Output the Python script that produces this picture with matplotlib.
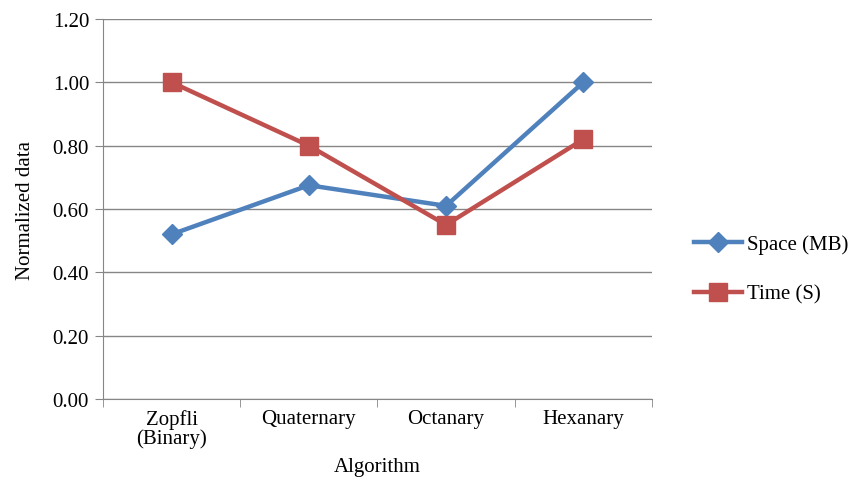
import matplotlib.pyplot as plt
import numpy as np

plt.rcParams['font.family'] = ['Liberation Serif', 'DejaVu Serif']

algorithms = ['Zopfli\n(Binary)', 'Quaternary', 'Octanary', 'Hexanary']
space_mb = [0.52, 0.675, 0.61, 1.00]
time_s = [1.00, 0.80, 0.55, 0.82]
y_ticks = [0.0, 0.2, 0.4, 0.6, 0.8, 1.0, 1.2]

blue = '#4F81BD'
red = '#C0504D'
grid_col = '#868686'
fs = 15

fig = plt.figure(figsize=(8.59, 4.81), dpi=100)
ax = fig.add_axes([0.1199, 0.1684, 0.639, 0.790])

x = np.arange(len(algorithms))
ax.plot(x, space_mb, color=blue, lw=3.2, marker='D', ms=10.5, label='Space (MB)', zorder=3)
ax.plot(x, time_s, color=red, lw=3.2, marker='s', ms=13, label='Time (S)', zorder=3)

ax.set_xlim(-0.5, len(algorithms) - 0.5)
ax.set_ylim(0, 1.2)
ax.set_yticks(y_ticks)
ax.set_yticklabels([f'{v:.2f}' for v in y_ticks])
ax.yaxis.grid(True, color=grid_col, lw=1)
ax.set_axisbelow(True)

# category labels centred, tick marks on the boundaries
ax.set_xticks(x)
ax.set_xticklabels(algorithms, linespacing=0.95)
ax.tick_params(axis='x', length=0, pad=7)
ax.set_xticks(np.arange(-0.5, len(algorithms)), minor=True)
ax.tick_params(axis='x', which='minor', length=6, color=grid_col, direction='out')
ax.tick_params(axis='y', length=6, color=grid_col, direction='out', pad=4)
ax.tick_params(labelsize=fs)

for side in ['top', 'right']:
    ax.spines[side].set_visible(False)
for side in ['left', 'bottom']:
    ax.spines[side].set_color(grid_col)

ax.set_xlabel('Algorithm', fontsize=fs, labelpad=7)
ax.set_ylabel('Normalized data', fontsize=fs, labelpad=13)

ax.legend(loc='center left', bbox_to_anchor=(1.058, 0.342), frameon=False, borderpad=0,
          fontsize=fs, handlelength=2.3, labelspacing=1.45, handletextpad=0.25)

fig.savefig('out.png', dpi=100)
